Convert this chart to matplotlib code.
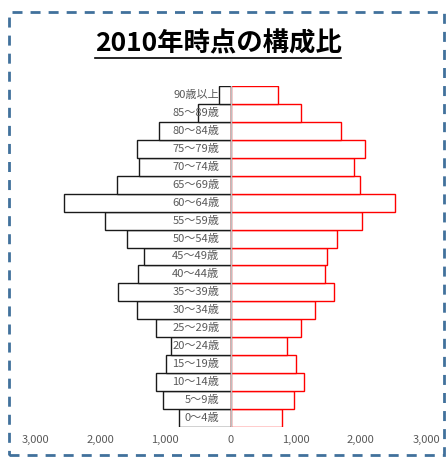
import numpy as np
import matplotlib
matplotlib.use("Agg")
import matplotlib.pyplot as plt
from matplotlib import ticker
from matplotlib.patches import Rectangle
from matplotlib.lines import Line2D

plt.rcParams['font.family'] = ['Noto Sans CJK JP', 'DejaVu Sans']

# Age groups, bottom to top
age_groups = ['0～4歳', '5～9歳', '10～14歳', '15～19歳', '20～24歳', '25～29歳',
              '30～34歳', '35～39歳', '40～44歳', '45～49歳', '50～54歳', '55～59歳',
              '60～64歳', '65～69歳', '70～74歳', '75～79歳', '80～84歳', '85～89歳',
              '90歳以上']
male = [796, 1041, 1138, 985, 908, 1138, 1435, 1726, 1414, 1327, 1588, 1919,
        2553, 1746, 1398, 1440, 1098, 500, 180]
female = [796, 969, 1123, 1000, 862, 1082, 1297, 1582, 1444, 1475, 1628, 2011,
          2522, 1980, 1894, 2062, 1695, 1087, 724]
x_ticks = [-3000, -2000, -1000, 0, 1000, 2000, 3000]

W, H = 446, 459
fig = plt.figure(figsize=(W / 100, H / 100), dpi=100)
ax = fig.add_axes([35 / W, 1 - 427 / H, 391 / W, 341 / H])

y = np.arange(len(age_groups))
ax.barh(y, -np.array(male), height=1.0, color='white', edgecolor='#1a1a1a', linewidth=1.0)
ax.barh(y, female, height=1.0, color='white', edgecolor='#ff0000', linewidth=1.0)
ax.axvline(0, color='#bfbfbf', linewidth=1.0, zorder=3)

for yi, label in zip(y, age_groups):
    ax.text(-170, yi, label, ha='right', va='center', fontsize=8, color='#595959', zorder=4)

ax.set_xlim(-3000, 3000)
ax.set_ylim(-0.5, len(age_groups) - 0.5)
ax.set_xticks(x_ticks)
ax.xaxis.set_major_formatter(ticker.FuncFormatter(lambda v, p: f'{abs(int(v)):,}'))
ax.set_yticks([])
ax.tick_params(axis='x', length=0, pad=6, labelsize=8, labelcolor='#595959')
for s in ax.spines.values():
    s.set_visible(False)

# Title with underline
title = fig.text(218 / W, 1 - 44 / H, '2010年時点の構成比', ha='center', va='center',
                 fontsize=19, fontweight='bold', color='black')
fig.canvas.draw()
bb = title.get_window_extent(fig.canvas.get_renderer())
uy = 1 - 58 / H
fig.add_artist(Line2D([bb.x0 / W, bb.x1 / W], [uy, uy], color='black', linewidth=1.2,
                      transform=fig.transFigure))

# Dashed frame around the figure
frame = Rectangle((8.5 / W, 1 - 455 / H), 435 / W, 443 / H, transform=fig.transFigure,
                  fill=False, edgecolor='#41719c', linewidth=2.0, linestyle=(0, (3.6, 2.9)))
fig.add_artist(frame)

fig.savefig('out.png', dpi=100)
